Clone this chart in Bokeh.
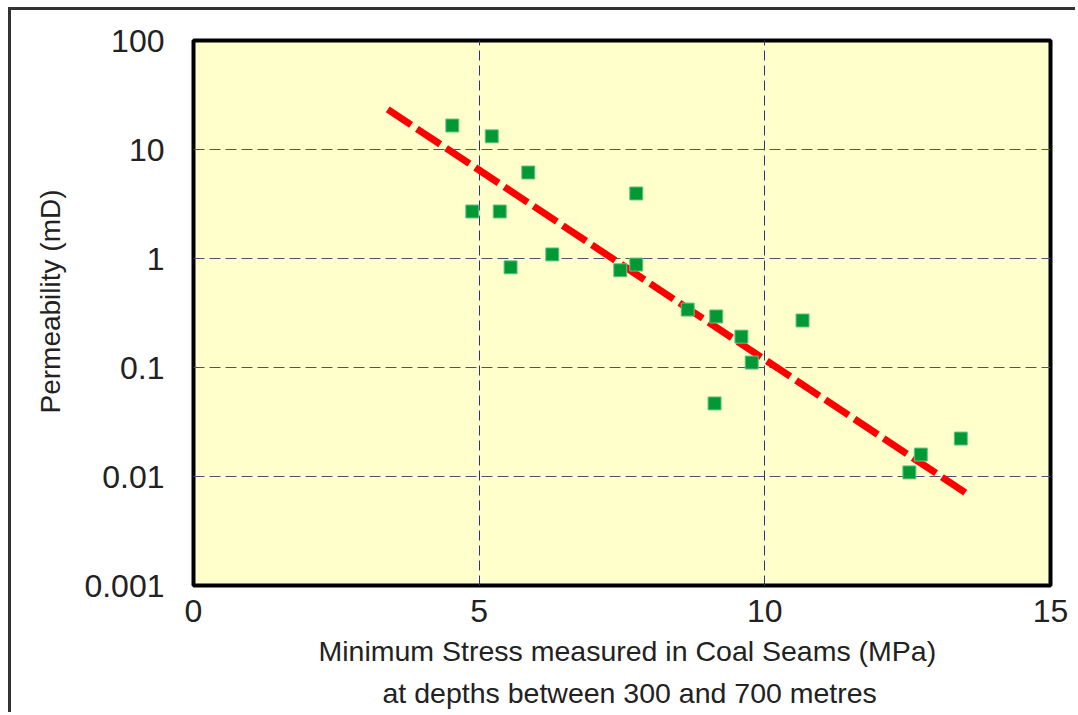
from bokeh.plotting import figure
from bokeh.models import FixedTicker, Title
from bokeh.embed import file_html
from bokeh.resources import INLINE

# Minimum stress (MPa) vs permeability (mD) for coal seams
stress_mpa = [4.53, 5.22, 4.88, 5.36, 5.86, 5.55, 6.28, 7.47, 7.75, 7.75,
              8.65, 9.15, 9.59, 9.77, 9.12, 10.66, 12.53, 12.73, 13.43]
permeability_md = [16.6, 13.2, 2.70, 2.70, 6.15, 0.83, 1.09, 0.78, 0.88, 3.95,
                   0.34, 0.294, 0.192, 0.111, 0.0468, 0.27, 0.0109, 0.0159, 0.0223]

# Fitted trend (straight on log scale)
trend_stress = [3.40, 13.53]
trend_perm = [23.3, 0.0070]

x_ticks = [0, 5, 10, 15]
y_ticks = [0.001, 0.01, 0.1, 1, 10, 100]
y_tick_labels = ["0.001", "0.01", "0.1", "1", "10", "100"]

x_title_1 = "Minimum Stress measured in Coal Seams (MPa)"
x_title_2 = "at depths between 300 and 700 metres"
y_title = "Permeability (mD)"

FONT = "Liberation Sans"
TEXT = "#222222"

p = figure(
    width=1067, height=705,
    x_range=(0, 15), y_range=(0.001, 100), y_axis_type="log",
    output_backend="svg", toolbar_location=None,
    min_border_left=182, min_border_right=28,
    min_border_top=30, min_border_bottom=130,
    background_fill_color="#FFFFCC", border_fill_color="white",
    outline_line_color="black", outline_line_width=4,
    styles={"margin-left": "8px", "margin-top": "7px",
            "border-left": "3px solid #333333",
            "border-top": "3px solid #333333"},
)

# axes: labels only, the frame acts as the axis line
p.xaxis.ticker = FixedTicker(ticks=x_ticks)
p.yaxis.ticker = FixedTicker(ticks=y_ticks)
p.yaxis.major_label_overrides = {v: s for v, s in zip(y_ticks, y_tick_labels)}
for ax in (p.xaxis, p.yaxis):
    ax.axis_line_color = None
    ax.major_tick_line_color = None
    ax.minor_tick_line_color = None
    ax.major_tick_out = 0
    ax.major_tick_in = 0
    ax.major_label_text_font = FONT
    ax.major_label_text_font_size = "32px"
    ax.major_label_text_color = TEXT
p.xaxis.major_label_standoff = 14
p.yaxis.major_label_standoff = 29

# dashed grid
p.xgrid.grid_line_color = "#2e2e82"
p.xgrid.grid_line_dash = "10 5"
p.xgrid.grid_line_width = 1
p.ygrid.grid_line_color = "#50506e"
p.ygrid.grid_line_dash = "11 5"
p.ygrid.grid_line_width = 1

# trend line
p.line(trend_stress, trend_perm, line_color="#FF0000", line_width=7,
       line_dash="28 7", line_cap="butt")

# measurements
p.scatter(stress_mpa, permeability_md, marker="square", size=13,
          fill_color="#009933", line_color="#66c488", line_width=1)

# axis titles (left-aligned, shifted along the frame edge)
for txt, so, off in ((x_title_1, 16, 125), (x_title_2, 0, 189)):
    p.add_layout(Title(text=txt, align="left", offset=off,
                       standoff=so, text_font=FONT, text_font_size="28.5px",
                       text_font_style="normal", text_color=TEXT), "below")
p.add_layout(Title(text=y_title, align="left", offset=172, standoff=31,
                   text_font=FONT, text_font_size="28px",
                   text_font_style="normal", text_color=TEXT), "left")

open("out.html", "w").write(file_html(p, INLINE))
